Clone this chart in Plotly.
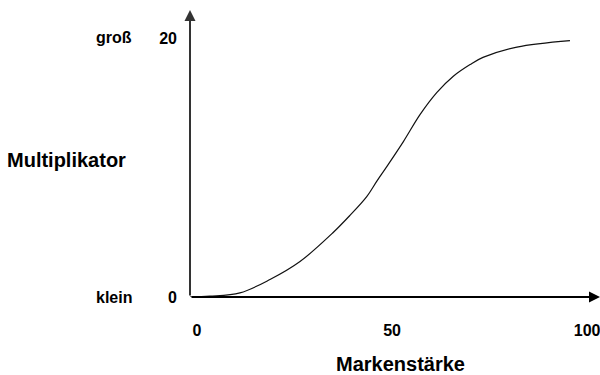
import plotly.graph_objects as go

# Data (schematic S-curve)
markenstaerke = [0, 5.1, 12.8, 20.5, 28.2, 36.7, 41.0, 45.3, 47.9, 50.4, 54.7, 59.0, 63.3, 67.5, 71.8, 75.1, 83.8, 97.4]
multiplikator = [0, 0.06, 0.32, 1.35, 2.74, 4.98, 6.3, 7.75, 8.95, 10.05, 12.0, 14.1, 15.8, 17.05, 17.95, 18.5, 19.3, 19.8]

x_ticks = [0, 50, 100]
x_ticklabels = ["0", "50", "100"]
y_ticks = [0, 20]
y_ticklabels = ["0", "20"]
y_side_labels = ["klein", "groß"]

X_MAX = 105.1
Y_MAX = 22.16
FONT = "Liberation Sans, Arial, Helvetica, sans-serif"

fig = go.Figure()
fig.add_trace(go.Scatter(
    x=markenstaerke, y=multiplikator, mode="lines",
    line=dict(color="#111111", width=1.2, shape="spline", smoothing=1.0),
    hoverinfo="skip", showlegend=False,
))

annotations = []
# y axis with arrow
annotations.append(dict(x=0, y=Y_MAX, ax=0, ay=0, xref="x", yref="y", axref="x", ayref="y",
                        text="", showarrow=True, arrowhead=2, arrowsize=1.1, arrowwidth=2,
                        arrowcolor="#333333"))
# x axis with arrow
annotations.append(dict(x=X_MAX, y=0, ax=0, ay=0, xref="x", yref="y", axref="x", ayref="y",
                        text="", showarrow=True, arrowhead=2, arrowsize=1.1, arrowwidth=2,
                        arrowcolor="#000000"))
# side labels klein / groß
for yv, lab in zip(y_ticks, y_side_labels):
    annotations.append(dict(x=0, y=yv, xref="paper", yref="y", text=lab, showarrow=False,
                            xanchor="right", yanchor="middle", xshift=-56,
                            font=dict(family=FONT, size=16, color="#000", weight="bold")))
# axis titles
annotations.append(dict(x=0, y=0.5, xref="paper", yref="paper", text="Multiplikator",
                        showarrow=False, xanchor="right", yanchor="middle", xshift=-62, yshift=-6,
                        font=dict(family=FONT, size=20, color="#000", weight="bold")))
annotations.append(dict(x=50, y=0, xref="x", yref="paper", text="Markenstärke", showarrow=False,
                        xanchor="center", yanchor="middle", yshift=-67, xshift=15,
                        font=dict(family=FONT, size=20, color="#000", weight="bold")))

fig.update_layout(
    width=600, height=375,
    margin=dict(l=190, r=0, t=10, b=78, autoexpand=False),
    paper_bgcolor="white", plot_bgcolor="white",
    xaxis=dict(range=[0, X_MAX], showgrid=False, zeroline=False, showline=False,
               tickvals=x_ticks, ticktext=x_ticklabels, ticks="", automargin=False,
               ticklabelstandoff=22, ticklabelshift=7, ticklabeloverflow="allow",
               tickfont=dict(family=FONT, size=16, color="#000", weight="bold")),
    yaxis=dict(range=[0, Y_MAX], showgrid=False, zeroline=False, showline=False,
               tickvals=y_ticks, ticktext=y_ticklabels, ticks="", automargin=False,
               ticklabelstandoff=12, ticklabeloverflow="allow",
               tickfont=dict(family=FONT, size=16, color="#000", weight="bold")),
    annotations=annotations,
    showlegend=False,
)

fig.write_html("out.html", config={"displayModeBar": False},
               post_script="document.body.style.margin='0';document.body.style.overflow='hidden';")
